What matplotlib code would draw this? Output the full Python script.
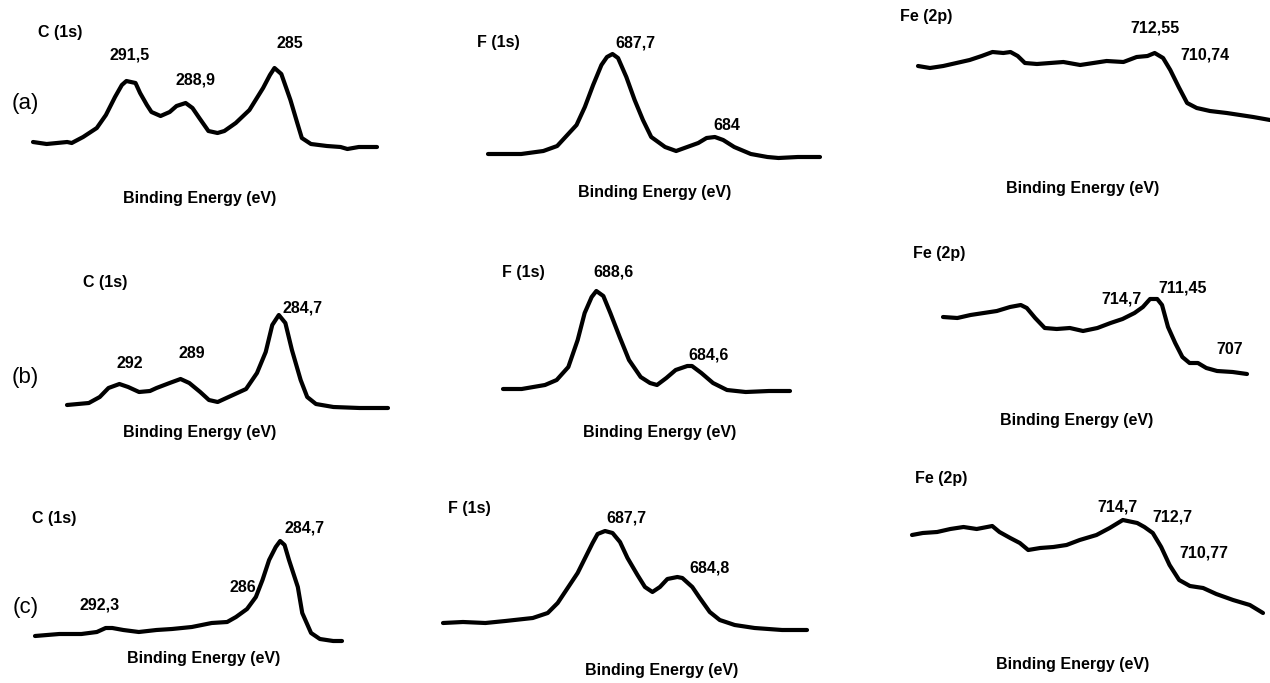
import matplotlib.pyplot as plt

W, H = 1270, 683  # output size in pixels

# ---- spectra (binding energy in eV, intensity in a.u.) ----
# row (a)
c1s_a_energy = [295.6, 295.0, 294.1, 293.9, 293.4, 292.8, 292.4, 292.0, 291.7, 291.5,
                291.1, 290.9, 290.6, 290.4, 290.0, 289.6, 289.3, 288.9, 288.6, 288.3,
                287.9, 287.5, 287.2, 286.7, 286.1, 285.5, 285.2, 285.0, 284.7, 284.3,
                284.0, 283.8, 283.4, 282.7, 282.1, 281.8, 281.3, 280.5]
c1s_a_counts = [8, 6, 8, 7, 13, 22, 35, 53, 65, 69, 67, 57, 45, 38, 34, 38, 44, 47, 42, 32,
                19, 17, 19, 27, 40, 62, 75, 82, 76, 50, 27, 12, 6, 4, 3, 1, 3, 3]

f1s_a_energy = [692.2, 691.5, 691.0, 690.2, 689.7, 689.4, 689.0, 688.7, 688.4, 688.1,
                687.9, 687.7, 687.5, 687.2, 686.9, 686.6, 686.3, 685.8, 685.4, 685.0,
                684.6, 684.3, 684.0, 683.7, 683.3, 682.7, 682.1, 681.7, 681.0, 680.2]
f1s_a_counts = [6, 6, 6, 9, 14, 23, 35, 53, 75, 95, 103, 106, 102, 83, 60, 40, 23, 13, 9, 13,
                17, 22, 23, 20, 13, 6, 3, 2, 3, 3]

fe2p_a_energy = [732.3, 731.3, 730.2, 729.1, 728.0, 727.0, 726.1, 725.2, 724.6, 724.0,
                 723.4, 722.4, 721.3, 720.2, 718.8, 717.7, 716.6, 715.2, 714.1, 713.2,
                 712.6, 711.9, 711.3, 710.6, 709.9, 709.1, 708.0, 706.6, 705.5, 704.4, 703.0]
fe2p_a_counts = [64, 62, 64, 67, 70, 74, 78, 77, 78, 74, 67, 66, 67, 68, 65, 67, 69, 68, 73, 74,
                 77, 72, 60, 43, 27, 22, 19, 17, 15, 13, 10]

# row (b)
c1s_b_energy = [294.4, 293.4, 292.9, 292.5, 292.0, 291.6, 291.1, 290.6, 290.3, 289.7,
                289.2, 288.8, 288.3, 287.9, 287.5, 287.0, 286.2, 285.7, 285.3, 285.0,
                284.7, 284.4, 284.1, 283.7, 283.4, 283.0, 282.2, 281.0, 279.7]
c1s_b_counts = [5, 7, 13, 22, 26, 23, 18, 19, 22, 27, 31, 27, 18, 10, 8, 13, 21, 37, 58, 85,
                95, 87, 60, 30, 13, 6, 3, 2, 2]

f1s_b_energy = [692.6, 691.8, 690.8, 690.3, 689.8, 689.4, 689.1, 688.8, 688.6, 688.3,
                688.0, 687.6, 687.2, 686.7, 686.3, 686.0, 685.6, 685.2, 684.7, 684.5,
                684.1, 683.6, 683.0, 682.2, 681.2, 680.3]
f1s_b_counts = [11, 11, 15, 20, 33, 60, 87, 103, 109, 104, 87, 63, 40, 23, 17, 15, 22, 30, 34, 34,
                27, 17, 10, 8, 9, 9]

fe2p_b_energy = [729.0, 727.8, 726.7, 725.6, 724.5, 723.4, 722.5, 722.0, 721.3, 720.5,
                 719.5, 718.4, 717.3, 716.1, 715.0, 714.0, 713.0, 712.3, 711.7, 711.1,
                 710.7, 710.2, 709.6, 709.0, 708.4, 707.7, 707.0, 706.1, 704.8, 703.6]
fe2p_b_counts = [63, 62, 65, 67, 69, 73, 75, 72, 62, 52, 51, 52, 49, 52, 57, 61, 67, 73, 81, 81,
                 75, 53, 37, 23, 17, 17, 12, 9, 8, 6]

# row (c)
c1s_c_energy = [295.8, 294.7, 293.7, 293.0, 292.6, 292.3, 291.8, 291.1, 290.3, 289.6,
                288.7, 287.8, 287.1, 286.7, 286.2, 285.8, 285.5, 285.2, 284.9, 284.7,
                284.5, 284.3, 283.9, 283.7, 283.3, 282.9, 282.3, 281.9]
c1s_c_counts = [9, 11, 11, 13, 17, 17, 15, 13, 15, 16, 18, 22, 23, 28, 36, 48, 65, 85, 98, 104,
                100, 85, 58, 32, 12, 6, 4, 4]

f1s_c_energy = [694.2, 693.4, 692.5, 691.7, 690.6, 690.0, 689.6, 689.2, 688.8, 688.5,
                688.2, 688.0, 687.7, 687.4, 687.1, 686.8, 686.4, 686.1, 685.8, 685.5,
                685.2, 684.8, 684.6, 684.2, 683.9, 683.5, 683.1, 682.5, 681.7, 680.6, 679.6]
f1s_c_counts = [17, 18, 17, 19, 22, 27, 37, 52, 67, 82, 97, 106, 109, 107, 98, 82, 65, 53, 48, 53,
                61, 63, 62, 53, 42, 28, 20, 15, 12, 10, 10]

fe2p_c_energy = [732.3, 731.4, 730.2, 729.1, 728.0, 726.9, 725.6, 725.0, 724.1, 723.3,
                 722.6, 721.6, 720.5, 719.4, 718.3, 716.9, 715.8, 714.7, 713.5, 712.9,
                 712.2, 711.5, 710.8, 710.0, 709.1, 708.0, 706.9, 705.5, 704.1, 703.0]
fe2p_c_counts = [85, 87, 88, 91, 93, 91, 94, 88, 82, 77, 70, 72, 73, 75, 80, 85, 92, 100, 97, 93,
                 87, 73, 55, 40, 34, 32, 26, 20, 15, 7]

# peak labels per panel
c1s_a_peaks = ["291,5", "288,9", "285"]
f1s_a_peaks = ["687,7", "684"]
fe2p_a_peaks = ["712,55", "710,74"]
c1s_b_peaks = ["292", "289", "284,7"]
f1s_b_peaks = ["688,6", "684,6"]
fe2p_b_peaks = ["714,7", "711,45", "707"]
c1s_c_peaks = ["292,3", "286", "284,7"]
f1s_c_peaks = ["687,7", "684,8"]
fe2p_c_peaks = ["714,7", "712,7", "710,77"]

row_tags = ["(a)", "(b)", "(c)"]
xlabel = "Binding Energy (eV)"

plt.rcParams['font.family'] = ['Liberation Sans', 'DejaVu Sans']

# layout: (energy, counts, left px, right px, baseline px, title, title pos, peaks, peak pos, xlabel pos)
panels = [
    (c1s_a_energy, c1s_a_counts, 33, 377, 150, "C (1s)", (38, 33), c1s_a_peaks,
     [(130, 55), (195, 80), (290, 43)], (200, 199)),
    (f1s_a_energy, f1s_a_counts, 488, 820, 160, "F (1s)", (477, 43), f1s_a_peaks,
     [(635, 43), (727, 126)], (655, 193)),
    (fe2p_a_energy, fe2p_a_counts, 918, 1270, 130, "Fe (2p)", (900, 17), fe2p_a_peaks,
     [(1155, 28), (1205, 55)], (1083, 188)),
    (c1s_b_energy, c1s_b_counts, 67, 388, 410, "C (1s)", (83, 282), c1s_b_peaks,
     [(130, 363), (192, 353), (303, 308)], (200, 433)),
    (f1s_b_energy, f1s_b_counts, 503, 790, 400, "F (1s)", (502, 272), f1s_b_peaks,
     [(613, 272), (709, 355)], (660, 433)),
    (fe2p_b_energy, fe2p_b_counts, 943, 1247, 380, "Fe (2p)", (913, 254), fe2p_b_peaks,
     [(1122, 299), (1183, 288), (1230, 350)], (1077, 420)),
    (c1s_c_energy, c1s_c_counts, 35, 342, 645, "C (1s)", (32, 519), c1s_c_peaks,
     [(100, 605), (243, 587), (305, 528)], (204, 658)),
    (f1s_c_energy, f1s_c_counts, 443, 807, 640, "F (1s)", (448, 508), f1s_c_peaks,
     [(626, 518), (709, 568)], (662, 670)),
    (fe2p_c_energy, fe2p_c_counts, 912, 1263, 620, "Fe (2p)", (915, 479), fe2p_c_peaks,
     [(1117, 507), (1172, 517), (1204, 553)], (1073, 664)),
]
tag_pos = [(12, 104), (12, 377), (13, 608)]

fig = plt.figure(figsize=(W / 100, H / 100), dpi=100, facecolor='white')


def put(x, y, s, ha='center', size=11.5, weight='bold'):
    fig.text(x / W, 1 - y / H, s, ha=ha, va='center', fontsize=size,
             fontweight=weight, color='black')


AX_H = 120  # axes height in px, 1 px per count unit
for energy, counts, x0, x1, base, title, tpos, peaks, ppos, lpos in panels:
    ax = fig.add_axes([x0 / W, 1 - base / H, (x1 - x0) / W, AX_H / H])
    ax.plot(energy, counts, color='black', lw=3.0, solid_joinstyle='round',
            solid_capstyle='round', clip_on=False)
    ax.set_xlim(energy[0], energy[-1])  # XPS: energy decreases to the right
    ax.set_ylim(0, AX_H)
    ax.axis('off')
    put(tpos[0], tpos[1], title, ha='left')
    for s, (px, py) in zip(peaks, ppos):
        put(px, py, s)
    put(lpos[0], lpos[1], xlabel)

for s, (px, py) in zip(row_tags, tag_pos):
    put(px, py, s, ha='left', size=16, weight='normal')

fig.savefig('out.png', dpi=100, facecolor='white')
